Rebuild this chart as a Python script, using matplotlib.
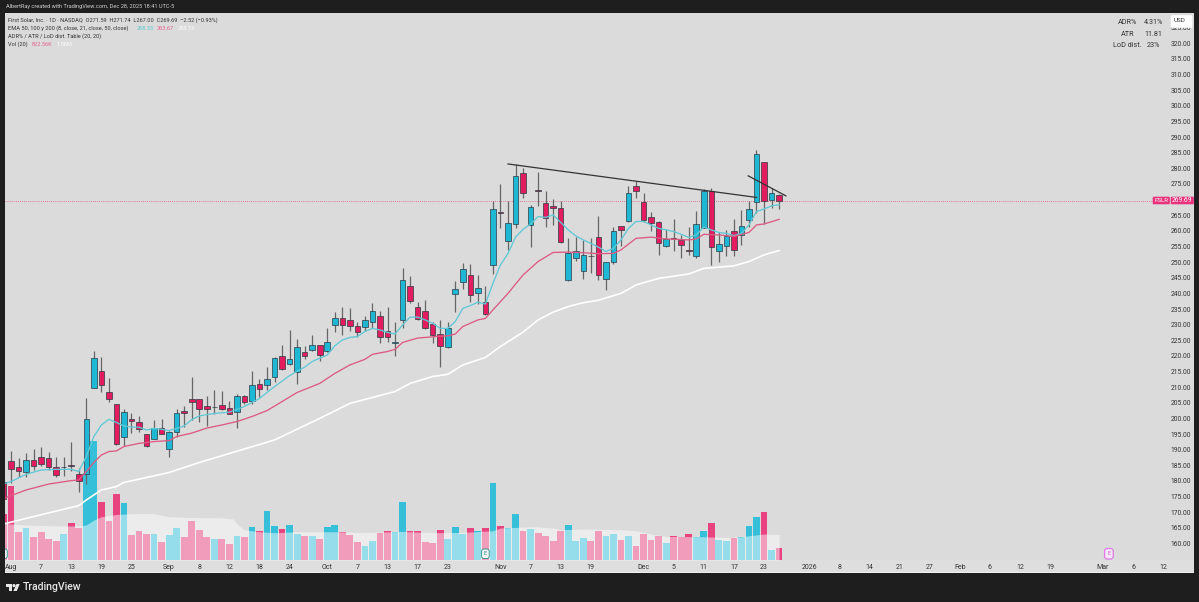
import matplotlib
matplotlib.use('Agg')
import matplotlib.pyplot as plt
from matplotlib.patches import Rectangle, FancyBboxPatch, Polygon, Circle

plt.rcParams['font.family'] = ['Roboto', 'DejaVu Sans']

# bars are indexed by trading day, -1 is the bar cut off at the left edge
opens = [179.8, 186.4, 184.3, 183.0, 186.7, 187.6, 187.3, 184.3, 184.3, 185.2, 182.1, 182.1, 209.6, 215.3, 208.6,
         204.5, 194.0, 199.9, 198.8, 194.9, 193.5, 196.9, 190.1, 195.8, 202.5, 206.1, 206.2, 204.1, 203.6, 204.3,
         203.4, 201.9, 207.3, 205.7, 210.9, 210.7, 213.2, 220.0, 217.3, 214.7, 221.3, 222.0, 223.6, 221.5, 230.0,
         232.1, 231.5, 229.5, 229.2, 231.0, 232.8, 227.9, 224.1, 231.5, 242.2, 235.6, 234.4, 230.3, 227.0, 222.7,
         239.7, 243.5, 246.0, 240.0, 237.1, 249.1, 266.0, 256.6, 262.2, 278.4, 261.8, 273.1, 268.8, 268.0, 267.3,
         244.3, 251.2, 247.0, 252.1, 258.0, 244.5, 250.0, 261.6, 263.3, 274.2, 269.2, 264.4, 262.8, 255.3, 257.8,
         257.1, 253.8, 252.1, 261.0, 272.9, 253.4, 255.2, 260.1, 258.8, 263.5, 269.2, 282.0, 269.9, 271.59]
highs = [180.0, 189.6, 187.2, 188.8, 190.1, 190.7, 189.1, 187.6, 187.8, 192.6, 184.0, 206.4, 221.6, 219.6, 212.8,
         204.7, 203.0, 201.6, 200.8, 195.0, 199.5, 199.7, 195.9, 202.9, 204.1, 213.2, 206.3, 207.2, 209.1, 208.8,
         205.5, 207.7, 207.5, 215.2, 212.5, 216.6, 219.8, 223.4, 228.3, 225.3, 223.3, 226.7, 223.6, 229.0, 234.0,
         235.8, 235.4, 230.7, 232.8, 237.0, 234.4, 235.8, 230.9, 248.0, 245.4, 237.4, 237.9, 231.0, 231.5, 230.7,
         243.8, 249.6, 249.3, 246.0, 242.5, 269.7, 275.0, 269.7, 281.4, 280.0, 268.3, 278.8, 272.9, 270.2, 269.7,
         257.6, 258.0, 257.1, 257.6, 264.8, 250.0, 261.2, 261.7, 274.5, 276.1, 272.0, 265.9, 263.0, 260.5, 263.9,
         258.7, 261.2, 266.5, 273.3, 273.8, 259.5, 260.3, 263.9, 266.7, 269.7, 285.9, 282.0, 273.6, 271.74]
lows = [174.0, 179.2, 181.4, 181.2, 183.5, 184.8, 183.5, 181.4, 181.6, 183.3, 176.4, 179.0, 209.6, 208.6, 205.1,
        191.4, 191.2, 195.2, 195.8, 191.0, 193.3, 194.9, 187.6, 194.2, 197.4, 199.5, 199.0, 197.7, 201.4, 202.7,
        201.4, 196.9, 204.6, 204.6, 207.0, 209.1, 211.8, 215.5, 217.1, 211.0, 218.9, 221.7, 218.5, 221.3, 227.7,
        226.7, 228.0, 225.9, 228.0, 228.9, 224.0, 224.3, 220.0, 229.0, 236.8, 231.5, 228.5, 224.0, 216.6, 222.5,
        234.0, 241.3, 237.1, 236.6, 233.1, 246.2, 261.0, 253.9, 261.0, 270.6, 254.7, 268.1, 261.2, 261.9, 256.0,
        243.8, 250.2, 244.5, 246.4, 244.3, 241.1, 249.3, 255.2, 262.7, 270.4, 262.7, 260.1, 252.3, 254.8, 253.4,
        251.2, 252.3, 251.2, 261.0, 249.0, 249.9, 252.0, 251.8, 255.5, 261.2, 265.6, 262.1, 267.2, 267.0]
closes = [174.2, 183.8, 183.2, 186.7, 184.8, 185.4, 184.4, 181.9, 184.6, 184.8, 180.0, 199.7, 219.2, 210.8, 206.3,
          191.7, 202.2, 199.3, 196.6, 191.2, 196.9, 195.1, 195.8, 201.6, 201.7, 205.1, 203.0, 202.9, 203.8, 203.1,
          201.5, 207.2, 205.1, 210.6, 209.4, 212.5, 219.2, 215.7, 219.1, 223.0, 220.0, 223.4, 220.4, 224.6, 232.1,
          230.0, 229.5, 227.8, 231.4, 234.3, 225.9, 226.1, 224.4, 244.3, 237.6, 231.8, 228.8, 226.8, 223.3, 229.0,
          241.4, 247.7, 239.4, 241.6, 233.3, 266.9, 265.6, 262.4, 277.4, 272.0, 267.7, 272.6, 264.0, 267.4, 256.5,
          253.0, 253.4, 252.2, 251.8, 245.8, 249.9, 259.8, 260.3, 272.2, 272.8, 263.5, 262.4, 256.0, 257.3, 257.5,
          255.6, 253.4, 262.1, 272.9, 254.7, 255.8, 258.5, 254.0, 261.6, 267.0, 284.6, 269.5, 272.2, 269.69]
# volume in millions
volume = [3.22, 5.17, 1.93, 2.24, 1.58, 1.98, 1.47, 1.35, 1.82, 2.56, 2.24, 6.06, 8.34, 4.03, 2.73,
          4.61, 3.96, 1.75, 2.05, 1.82, 1.82, 1.28, 1.75, 2.26, 1.58, 2.75, 2.10, 1.63, 1.47, 1.47,
          1.12, 1.70, 1.63, 2.33, 2.05, 3.40, 2.38, 2.19, 2.47, 1.82, 1.65, 1.65, 1.49, 2.28, 2.45,
          1.93, 1.77, 1.23, 1.00, 1.33, 1.89, 2.00, 1.93, 4.03, 2.00, 2.05, 1.23, 1.17, 2.10, 1.47,
          2.28, 1.82, 2.24, 2.00, 2.24, 5.38, 2.35, 2.26, 3.22, 2.05, 2.19, 1.86, 1.70, 1.33, 2.05,
          2.47, 1.30, 1.54, 1.33, 2.05, 1.70, 1.82, 1.40, 1.65, 0.98, 1.79, 1.40, 1.65, 1.19, 1.70,
          1.61, 1.82, 1.63, 2.05, 2.61, 1.37, 1.30, 1.54, 1.63, 2.38, 3.03, 3.36, 0.72, 0.82]

vol_ma_x = [-1, 2, 5, 9, 10, 11, 12, 14, 17, 19, 21, 25, 28, 29.5, 30, 31, 33, 35, 38, 43, 47, 52, 56, 60, 64, 65, 67,
            69.5, 72, 73, 76, 81, 83, 85, 87, 91.5, 95, 97, 100, 102]
vol_ma = [2.56, 2.45, 2.40, 2.38, 2.45, 2.80, 3.03, 3.19, 3.26, 3.24, 3.03, 2.96, 2.96, 2.87, 2.52, 2.10, 1.98, 1.91,
          1.98, 1.98, 1.93, 2.00, 1.91, 1.93, 2.05, 2.24, 2.28, 2.33, 2.24, 2.12, 2.17, 2.12, 2.05, 1.82, 1.65, 1.63,
          1.58, 1.63, 1.82, 1.77]

ema8_x = [-1, 0, 2, 4, 6, 8, 9, 10, 11, 12, 13, 14, 15, 16, 17, 18, 19, 20, 21, 22, 23, 24, 25, 27, 29, 31, 33, 35, 37,
          39, 40, 42, 43, 44, 45, 46, 47, 48, 49, 50, 51, 52, 53, 54, 55, 56, 57, 58, 59, 60, 61, 62, 63, 64, 65, 66,
          67, 68, 69, 70, 71, 72, 73, 74, 75, 76, 77, 78, 79, 80, 81, 82, 83, 84, 85, 86, 87, 88, 89, 90, 91, 92, 93,
          94, 95, 96, 97, 98, 99, 100, 101, 102]
ema8 = [179.0, 179.8, 182.1, 183.5, 183.7, 183.7, 183.0, 187.8, 194.2, 197.9, 199.7, 198.7, 197.6, 197.2, 197.2, 196.3,
        196.8, 196.5, 196.1, 196.8, 197.6, 199.6, 200.8, 201.6, 202.0, 203.8, 206.4, 210.2, 213.7, 216.4, 218.2, 220.3,
        223.2, 225.1, 225.9, 226.2, 227.8, 228.8, 228.3, 227.5, 227.0, 229.9, 232.4, 232.4, 231.5, 230.4, 228.8, 228.8,
        231.0, 235.2, 236.1, 237.2, 236.6, 243.2, 249.1, 252.8, 258.0, 260.5, 262.2, 264.6, 264.3, 265.1, 262.7, 260.3,
        258.4, 257.1, 256.0, 254.8, 253.4, 254.4, 257.1, 260.8, 263.0, 263.0, 261.9, 260.8, 260.3, 259.8, 258.9, 257.9,
        258.7, 261.2, 260.3, 259.5, 259.2, 258.5, 259.2, 261.9, 266.2, 267.0, 268.0, 268.33]
ema21_x = [-1, 2, 5, 8, 9, 10, 11, 12, 13, 14, 15, 17, 19, 21, 22, 24, 26, 28, 30, 32, 34, 36, 38, 41, 43, 45, 47, 48,
           50, 51, 52, 54, 57, 58, 59, 60, 62, 63, 64, 66, 68, 70, 72, 74, 76, 78, 80, 81, 83, 85, 87, 90, 91, 92, 94,
           96, 98, 99, 100, 102]
ema21 = [174.4, 177.1, 179.0, 180.1, 180.3, 183.0, 185.9, 188.3, 189.4, 189.6, 191.0, 192.0, 192.6, 192.9, 194.2, 195.3,
         196.9, 197.9, 199.0, 200.6, 202.5, 205.4, 208.3, 211.2, 214.4, 217.1, 218.9, 220.5, 221.4, 222.1, 224.3, 225.7,
         226.3, 226.4, 227.0, 229.4, 231.5, 232.0, 234.7, 240.0, 245.9, 250.2, 253.1, 253.2, 253.0, 252.7, 252.8, 253.9,
         257.6, 258.0, 257.4, 257.1, 257.4, 258.9, 258.7, 258.2, 259.5, 261.9, 262.2, 263.67]
ema50_x = [-1, 3, 9, 10, 12, 14, 15, 18, 21, 25, 35, 41, 45, 51, 53, 56, 58, 60, 63, 65, 68, 70, 72, 74, 76, 78, 81,
           83, 86, 90, 92, 96, 98, 100, 102]
ema50 = [166.2, 168.6, 172.1, 173.9, 177.1, 178.2, 179.5, 181.1, 182.7, 185.9, 193.1, 200.0, 204.8, 208.6, 211.2, 213.4,
         214.1, 217.1, 219.5, 223.0, 227.6, 231.5, 234.0, 235.8, 237.0, 237.8, 240.0, 242.7, 244.8, 246.2, 248.0, 248.8,
         250.2, 252.3, 253.7]

last_price = 269.69
trend1_x, trend1_y = [66, 99], [281.4, 270.7]
trend2_x, trend2_y = [97.9, 102.9], [277.6, 271.2]

price_ticks = list(range(160, 330, 5))
date_ticks = [0, 4, 8, 12, 16, 21, 25, 29, 33, 37, 42, 46, 50, 54, 58, 65, 69, 73, 77, 84, 88, 92, 96, 100,
              106, 110, 114, 118, 122, 126, 130, 134, 138, 145, 149, 153]
date_labels = ['Aug', '7', '13', '19', '25', 'Sep', '8', '12', '18', '24', 'Oct', '7', '13', '17', '23', 'Nov', '7',
               '13', '19', 'Dec', '5', '11', '17', '23', '2026', '8', '14', '21', '27', 'Feb', '6', '12', '19', 'Mar',
               '6', '12']

days = list(range(-1, 103))
TEAL = '#1fb8d4'
RED = '#e31c5f'
is_up = [c >= o for o, c in zip(opens, closes)]
colors = [TEAL if u else RED for u in is_up]

W, H = 1199, 602
fig = plt.figure(figsize=(W / 100, H / 100), dpi=100, facecolor='#1e1e1e')

# plot panel in pixel coords
bg = fig.add_axes([0, 0, 1, 1], zorder=-1)
bg.set_xlim(0, W)
bg.set_ylim(H, 0)
bg.axis('off')
bg.add_patch(Rectangle((5, 13), 1189, 559, fc='#dbdbdb', ec='none'))
bg.add_patch(Rectangle((5, 560), 1189, 12, fc='#dedede', ec='none'))
bg.add_patch(Rectangle((5, 572), 1189, 1.2, fc='#efefef', ec='none'))

rect = [5 / W, (H - 560) / H, 1189 / W, 547 / H]
xlim = (-0.797, 157.1)

# volume pane, same frame as the price pane
vax = fig.add_axes(rect, zorder=1)
vax.patch.set_visible(False)
vax.set_xlim(*xlim)
vax.set_ylim(0, 38.3)
vax.axis('off')
vax.bar(days, volume, width=0.9, color=['#35bfd9' if u else '#e8437f' for u in is_up], zorder=1)
vax.fill_between(vol_ma_x, 0, vol_ma, color='white', alpha=0.48, lw=0, zorder=2)

ax = fig.add_axes(rect, zorder=2)
ax.patch.set_visible(False)
ax.set_xlim(*xlim)
ax.set_ylim(154.7, 329.7)

ax.vlines(days, lows, highs, color='#666666', lw=0.9, zorder=3)
ax.bar(days, [c - o for o, c in zip(opens, closes)], bottom=opens, width=0.74, color=colors,
       edgecolor='#2c3a42', linewidth=0.5, zorder=4)
ax.plot(ema8_x, ema8, color='#5fc9d6', lw=0.95, zorder=5)
ax.plot(ema21_x, ema21, color='#dd5b82', lw=0.95, zorder=5)
ax.plot(ema50_x, ema50, color='white', lw=1.2, zorder=2)
ax.plot(trend1_x, trend1_y, color='#333333', lw=0.9, zorder=6)
ax.plot(trend2_x, trend2_y, color='#333333', lw=0.9, zorder=6)
ax.plot([xlim[0], 151.5], [last_price, last_price], color='#e4557f', lw=0.6, ls=(0, (1, 1.5)), zorder=2)

for s in ax.spines.values():
    s.set_visible(False)
ax.yaxis.tick_right()
ax.set_yticks(price_ticks)
ax.set_yticklabels(['%.2f' % p for p in price_ticks])
ax.tick_params(axis='y', length=0, pad=-2.2, labelsize=4.9, labelcolor='#333333')
plt.setp(ax.get_yticklabels(), ha='right')
ax.set_xticks(date_ticks)
ax.set_xticklabels(date_labels)
ax.tick_params(axis='x', length=0, pad=2.6, labelsize=5, labelcolor='#333333')

# earnings flags
ax.text(-1, 156.7, 'E', fontsize=4, color='#1f8f86', ha='center', va='center', clip_on=True, zorder=7,
        bbox=dict(boxstyle='round,pad=0.4', fc='#f4f4f4', ec='#1f8f86', lw=0.6))
ax.text(63, 156.7, 'E', fontsize=4, color='#1f8f86', ha='center', va='center', zorder=7,
        bbox=dict(boxstyle='round,pad=0.4', fc='#f4f4f4', ec='#1f8f86', lw=0.6))
ax.text(145.8, 156.7, 'E', fontsize=4, color='#d65fe0', ha='center', va='center', zorder=7,
        bbox=dict(boxstyle='round,pad=0.5', fc='#f4e6f6', ec='#e07ae8', lw=0.9))

# texts on top, pixel coords
ov = fig.add_axes([0, 0, 1, 1], zorder=5)
ov.set_xlim(0, W)
ov.set_ylim(H, 0)
ov.axis('off')
ov.patch.set_visible(False)

FS = 4.1
ov.text(5.5, 6.5, 'AlbertRay created with TradingView.com, Dec 28, 2025 18:41 UTC-5', fontsize=FS, color='#d0d0d0',
        va='center')
ov.text(8, 20, 'First Solar, Inc. · 1D · NASDAQ  O271.59  H271.74  L267.00  C269.69  −2.52 (−0.93%)', fontsize=FS,
        color='#333333', va='center')
ov.text(8, 28.3, 'EMA 50, 100 y 200 (8, close, 21, close, 50, close)', fontsize=FS, color='#333333', va='center')
ov.text(137, 28.3, '268.33', fontsize=FS, color='#5fc9d6', va='center')
ov.text(157, 28.3, '263.67', fontsize=FS, color='#e8608f', va='center')
ov.text(178, 28.3, '253.73', fontsize=FS, color='white', va='center')
ov.text(8, 36, 'ADR% / ATR / LoD dist. Table (20, 20)', fontsize=FS, color='#333333', va='center')
ov.text(8, 44, 'Vol (20)', fontsize=FS, color='#333333', va='center')
ov.text(32, 44, '822.56K', fontsize=FS, color='#e8608f', va='center')
ov.text(57, 44, '1.56M', fontsize=FS, color='white', va='center')

table_y = [22.7, 34, 45.7]
table_names = ['ADR%', 'ATR', 'LoD dist.']
table_vals = ['4.31%', '11.81', '23%']
for y, n, v in zip(table_y, table_names, table_vals):
    ov.text(1127.5, y, n, fontsize=5.2, color='#333333', ha='center', va='center')
    ov.text(1153.7, y, v, fontsize=5.2, color='#333333', ha='center', va='center')

ov.add_patch(FancyBboxPatch((1171.5, 16), 20, 11, boxstyle='round,pad=0.8,rounding_size=1.5', fc='white', ec='none'))
ov.text(1180, 21, 'USD', fontsize=4.6, color='#333333', ha='center', va='center')

ov.add_patch(FancyBboxPatch((1153, 197), 16.5, 7, boxstyle='round,pad=0.3,rounding_size=1', fc='#e8327c', ec='none'))
ov.add_patch(FancyBboxPatch((1171, 197), 22.5, 7, boxstyle='round,pad=0.3,rounding_size=1', fc='#e8327c', ec='none'))
ov.text(1161.3, 200.6, 'FSLR', fontsize=4.4, color='white', ha='center', va='center')
ov.text(1182.3, 200.6, '269.69', fontsize=4.8, color='white', ha='center', va='center')

# logo
ov.add_patch(Polygon([(6, 584), (12, 584), (12, 591), (9, 591), (9, 587), (6, 587)], fc='#e8e8e8', ec='none'))
ov.add_patch(Circle((14, 585.6), 1.6, fc='#e8e8e8', ec='none'))
ov.add_patch(Polygon([(16.5, 584), (19.7, 584), (16.8, 591), (13.4, 591)], fc='#e8e8e8', ec='none'))
ov.text(23, 587.3, 'TradingView', fontsize=7.6, fontweight='medium', color='#e8e8e8', va='center')

fig.savefig('out.png', dpi=100, facecolor=fig.get_facecolor())
